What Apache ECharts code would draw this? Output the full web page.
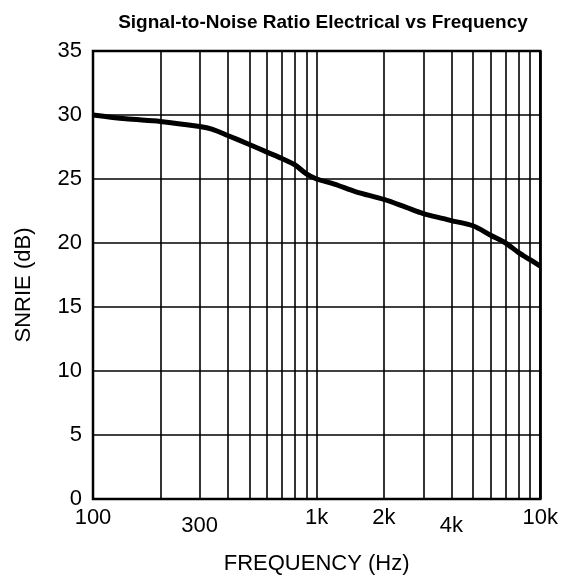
<!DOCTYPE html>
<html>
<head>
<meta charset="utf-8">
<script src="https://cdn.jsdelivr.net/npm/echarts@6/dist/echarts.min.js"></script>
<style>
  html, body { margin: 0; padding: 0; background: #fff; }
  #main { width: 561px; height: 586px; }
</style>
</head>
<body>
<div id="main"></div>
<script>
// frequency (Hz) and SNRIE (dB)
const freq = [100, 140, 200, 300, 340, 400, 500, 600, 700, 800, 900, 1000, 1200, 1500,
  2000, 2500, 3000, 3700, 4000, 5000, 6000, 7000, 8000, 9000, 10000];
const snr = [30.0, 29.7, 29.5, 29.1, 28.9, 28.4, 27.7, 27.1, 26.6, 26.1, 25.4, 25.0, 24.6, 24.0,
  23.4, 22.8, 22.3, 21.9, 21.75, 21.35, 20.6, 20.0, 19.25, 18.7, 18.2];

// grid lines at every 1-2-3...9 of each decade
const gridFreq = [100, 200, 300, 400, 500, 600, 700, 800, 900, 1000,
  2000, 3000, 4000, 5000, 6000, 7000, 8000, 9000, 10000];
const labelFreq = [100, 300, 1000, 2000, 4000, 10000];
const labelText = { 100: '100', 300: '300', 1000: '1k', 2000: '2k', 4000: '4k', 10000: '10k' };
const lowLabels = [300, 4000];

const font = '"Liberation Sans", Arial, Helvetica, sans-serif';

const chart = echarts.init(document.getElementById('main'));

chart.setOption({
  animation: false,
  backgroundColor: '#fff',
  title: {
    text: 'Signal-to-Noise Ratio Electrical vs Frequency',
    left: 318,
    top: 8,
    textAlign: 'center',
    textStyle: { fontFamily: font, fontSize: 19, fontWeight: 'bold', color: '#000' }
  },
  grid: {
    left: 93, right: 19, top: 51, bottom: 87,
    show: true, borderColor: '#000', borderWidth: 2.5
  },
  xAxis: {
    type: 'log',
    logBase: 10,
    min: 100,
    max: 10000,
    name: 'FREQUENCY (Hz)',
    nameLocation: 'middle',
    nameGap: 54,
    nameTextStyle: { fontFamily: font, fontSize: 22, color: '#000' },
    axisLine: { show: false },
    axisTick: { show: false, customValues: gridFreq },
    splitLine: { show: true, lineStyle: { color: '#000', width: 1.6 } },
    axisLabel: {
      customValues: labelFreq,
      margin: 8,
      fontFamily: font,
      fontSize: 22,
      color: '#000',
      formatter: function (v) {
        const t = labelText[Math.round(v)] || '';
        return lowLabels.indexOf(Math.round(v)) >= 0 ? '{lo|' + t + '}' : '{n|' + t + '}';
      },
      rich: {
        n: { fontFamily: font, fontSize: 22, color: '#000' },
        lo: { fontFamily: font, fontSize: 22, color: '#000', padding: [8, 0, 0, 0] }
      }
    }
  },
  yAxis: {
    type: 'value',
    min: 0,
    max: 35,
    interval: 5,
    name: 'SNRIE (dB)',
    nameLocation: 'middle',
    nameGap: 58,
    nameTextStyle: { fontFamily: font, fontSize: 22, color: '#000', padding: [0, 0, 0, -20] },
    axisLine: { show: false },
    axisTick: { show: false },
    splitLine: { show: true, lineStyle: { color: '#000', width: 1.6 } },
    axisLabel: { margin: 11, fontFamily: font, fontSize: 22, color: '#000', padding: [0, 0, 4, 0] }
  },
  series: [{
    type: 'line',
    data: freq.map((f, i) => [f, snr[i]]),
    smooth: 0.3,
    showSymbol: false,
    lineStyle: { color: '#000', width: 5 },
    z: 5
  }]
});
</script>
</body>
</html>
